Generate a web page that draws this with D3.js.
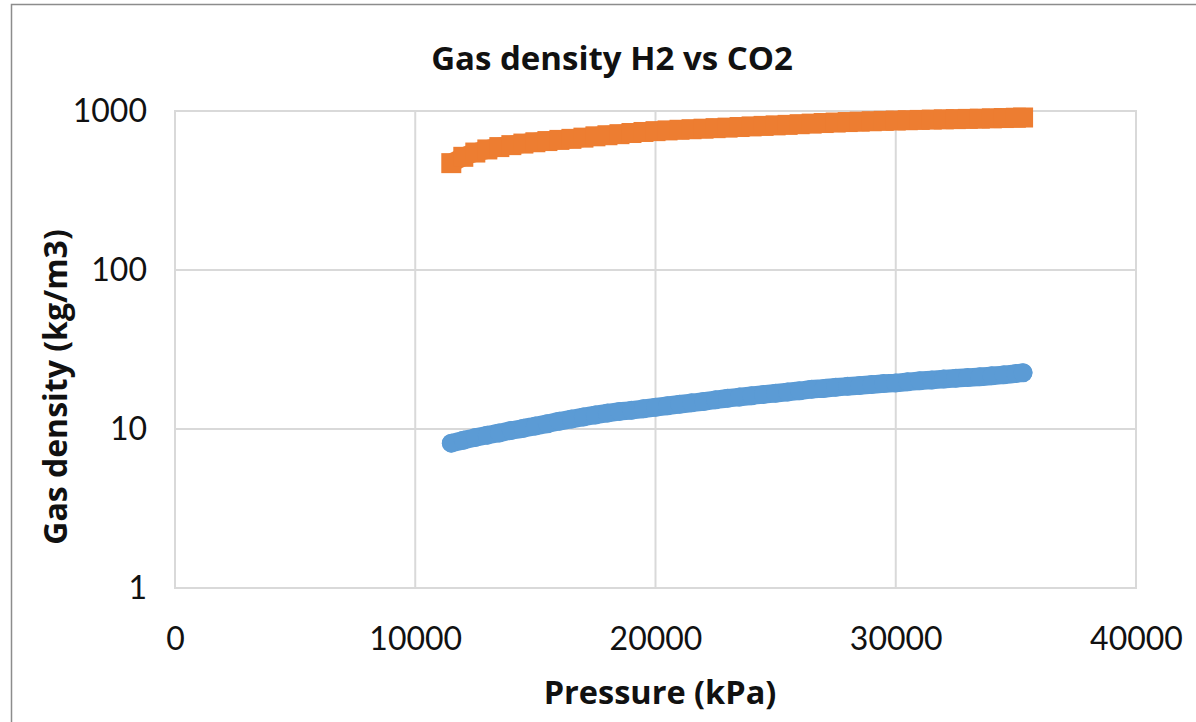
<!DOCTYPE html>
<html>
<head>
<meta charset="utf-8">
<script src="https://cdn.jsdelivr.net/npm/d3@7"></script>
<style>
  body { margin: 0; background: #fff; }
  svg { display: block; font-family: Lato, "Open Sans", sans-serif; }
</style>
</head>
<body>
<div class="chart"></div>
<script>
// pressure in kPa
const pressure = [11500, 12000, 12500, 13000, 13500, 14000, 14500, 15000, 15500, 16000,
  16500, 17000, 17500, 18000, 18500, 19000, 19500, 20000, 20500, 21000,
  21500, 22000, 22500, 23000, 23500, 24000, 24500, 25000, 25500, 26000,
  26500, 27000, 27500, 28000, 28500, 29000, 29500, 30000, 30500, 31000,
  31500, 32000, 32500, 33000, 33500, 34000, 34500, 35000, 35300]

// density kg/m3
const h2 = [8.15, 8.5, 8.85, 9.15, 9.45, 9.8, 10.1, 10.45, 10.8, 11.2,
  11.55, 11.9, 12.25, 12.6, 12.9, 13.1, 13.4, 13.7, 14.0, 14.3,
  14.6, 14.9, 15.25, 15.6, 15.9, 16.2, 16.5, 16.8, 17.1, 17.4,
  17.8, 18.0, 18.3, 18.55, 18.8, 19.05, 19.3, 19.5, 19.8, 20.1,
  20.35, 20.6, 20.85, 21.1, 21.3, 21.6, 21.9, 22.3, 22.6]

const co2 = [470, 515, 548, 573, 593, 610, 624, 636, 647, 658,
  668, 680, 693, 704, 715, 727, 738, 747, 755, 762,
  768, 774, 780, 786, 793, 800, 806, 812, 818, 826,
  833, 840, 846, 852, 857, 862, 867, 871, 875, 879,
  883, 886, 889, 892, 895, 899, 903, 907, 910]

const xTicks = [0, 10000, 20000, 30000, 40000]
const yTicks = [1, 10, 100, 1000]

const width = 1196
const height = 722
const titleFont = '"Open Sans", Lato, sans-serif'

const svg = d3.select('.chart')
  .append('svg')
  .attr('width', width)
  .attr('height', height)

// chart border
svg.append('rect')
  .attr('x', 11.5)
  .attr('y', 4.5)
  .attr('width', 1200)
  .attr('height', 730)
  .attr('fill', '#fff')
  .attr('stroke', '#8c8c8c')
  .attr('stroke-width', 1.5)

const x = d3.scaleLinear()
  .domain([0, 40000])
  .range([175, 1136])

const y = d3.scaleLog()
  .domain([1, 1000])
  .range([588, 111])

const grid = svg.append('g')

grid.selectAll('.vgrid')
  .data(xTicks)
  .enter()
  .append('line')
  .attr('x1', d => x(d))
  .attr('x2', d => x(d))
  .attr('y1', y(1000))
  .attr('y2', y(1))
  .attr('stroke', '#d9d9d9')
  .attr('stroke-width', 2)

grid.selectAll('.hgrid')
  .data(yTicks)
  .enter()
  .append('line')
  .attr('x1', x(0) - 1)
  .attr('x2', x(40000) + 1)
  .attr('y1', d => y(d))
  .attr('y2', d => y(d))
  .attr('stroke', '#d9d9d9')
  .attr('stroke-width', 2)

// axes labels
const xAxis = svg.append('g')
  .attr('transform', `translate(0,${y(1) + 36})`)
  .call(d3.axisBottom(x).tickValues(xTicks).tickSize(0).tickFormat(d3.format('d')))

xAxis.select('.domain').remove()
xAxis.selectAll('text')
  .attr('font-family', 'Lato, "Open Sans", sans-serif')
  .attr('font-size', 32)
  .attr('fill', '#111')

const yAxis = svg.append('g')
  .attr('transform', `translate(${x(0) - 25},0)`)
  .call(d3.axisLeft(y).tickValues(yTicks).tickSize(0).tickFormat(d3.format('d')))

yAxis.select('.domain').remove()
yAxis.selectAll('text')
  .attr('font-family', 'Lato, "Open Sans", sans-serif')
  .attr('font-size', 32)
  .attr('fill', '#111')

// series: the markers are packed so tight they read as a band
const co2Line = d3.line()
  .x((d, i) => x(d))
  .y((d, i) => y(co2[i]))
  .curve(d3.curveMonotoneX)

const h2Line = d3.line()
  .x((d, i) => x(d))
  .y((d, i) => y(h2[i]))
  .curve(d3.curveMonotoneX)

svg.append('path')
  .datum(pressure)
  .attr('d', co2Line)
  .attr('fill', 'none')
  .attr('stroke', '#ed7d31')
  .attr('stroke-width', 19)

svg.append('g')
  .selectAll('rect')
  .data(pressure)
  .enter()
  .append('rect')
  .attr('x', (d, i) => x(d) - 10)
  .attr('y', (d, i) => y(co2[i]) - 10)
  .attr('width', 20)
  .attr('height', 20)
  .attr('fill', '#ed7d31')

svg.append('path')
  .datum(pressure)
  .attr('d', h2Line)
  .attr('fill', 'none')
  .attr('stroke', '#5b9bd5')
  .attr('stroke-width', 18.5)
  .attr('stroke-linecap', 'round')

svg.append('g')
  .selectAll('circle')
  .data(pressure)
  .enter()
  .append('circle')
  .attr('cx', (d, i) => x(d))
  .attr('cy', (d, i) => y(h2[i]))
  .attr('r', 9.5)
  .attr('fill', '#5b9bd5')

// titles
svg.append('text')
  .attr('x', 612)
  .attr('y', 70)
  .attr('text-anchor', 'middle')
  .attr('font-family', titleFont)
  .attr('font-size', 33)
  .attr('font-weight', 'bold')
  .attr('fill', '#111')
  .text('Gas density H2 vs CO2')

svg.append('text')
  .attr('x', 660)
  .attr('y', 704)
  .attr('text-anchor', 'middle')
  .attr('font-family', titleFont)
  .attr('font-size', 32.5)
  .attr('font-weight', 'bold')
  .attr('fill', '#111')
  .text('Pressure (kPa)')

svg.append('text')
  .attr('transform', 'translate(67,387) rotate(-90)')
  .attr('text-anchor', 'middle')
  .attr('font-family', titleFont)
  .attr('font-size', 32)
  .attr('font-weight', 'bold')
  .attr('fill', '#111')
  .text('Gas density (kg/m3)')
</script>
</body>
</html>
